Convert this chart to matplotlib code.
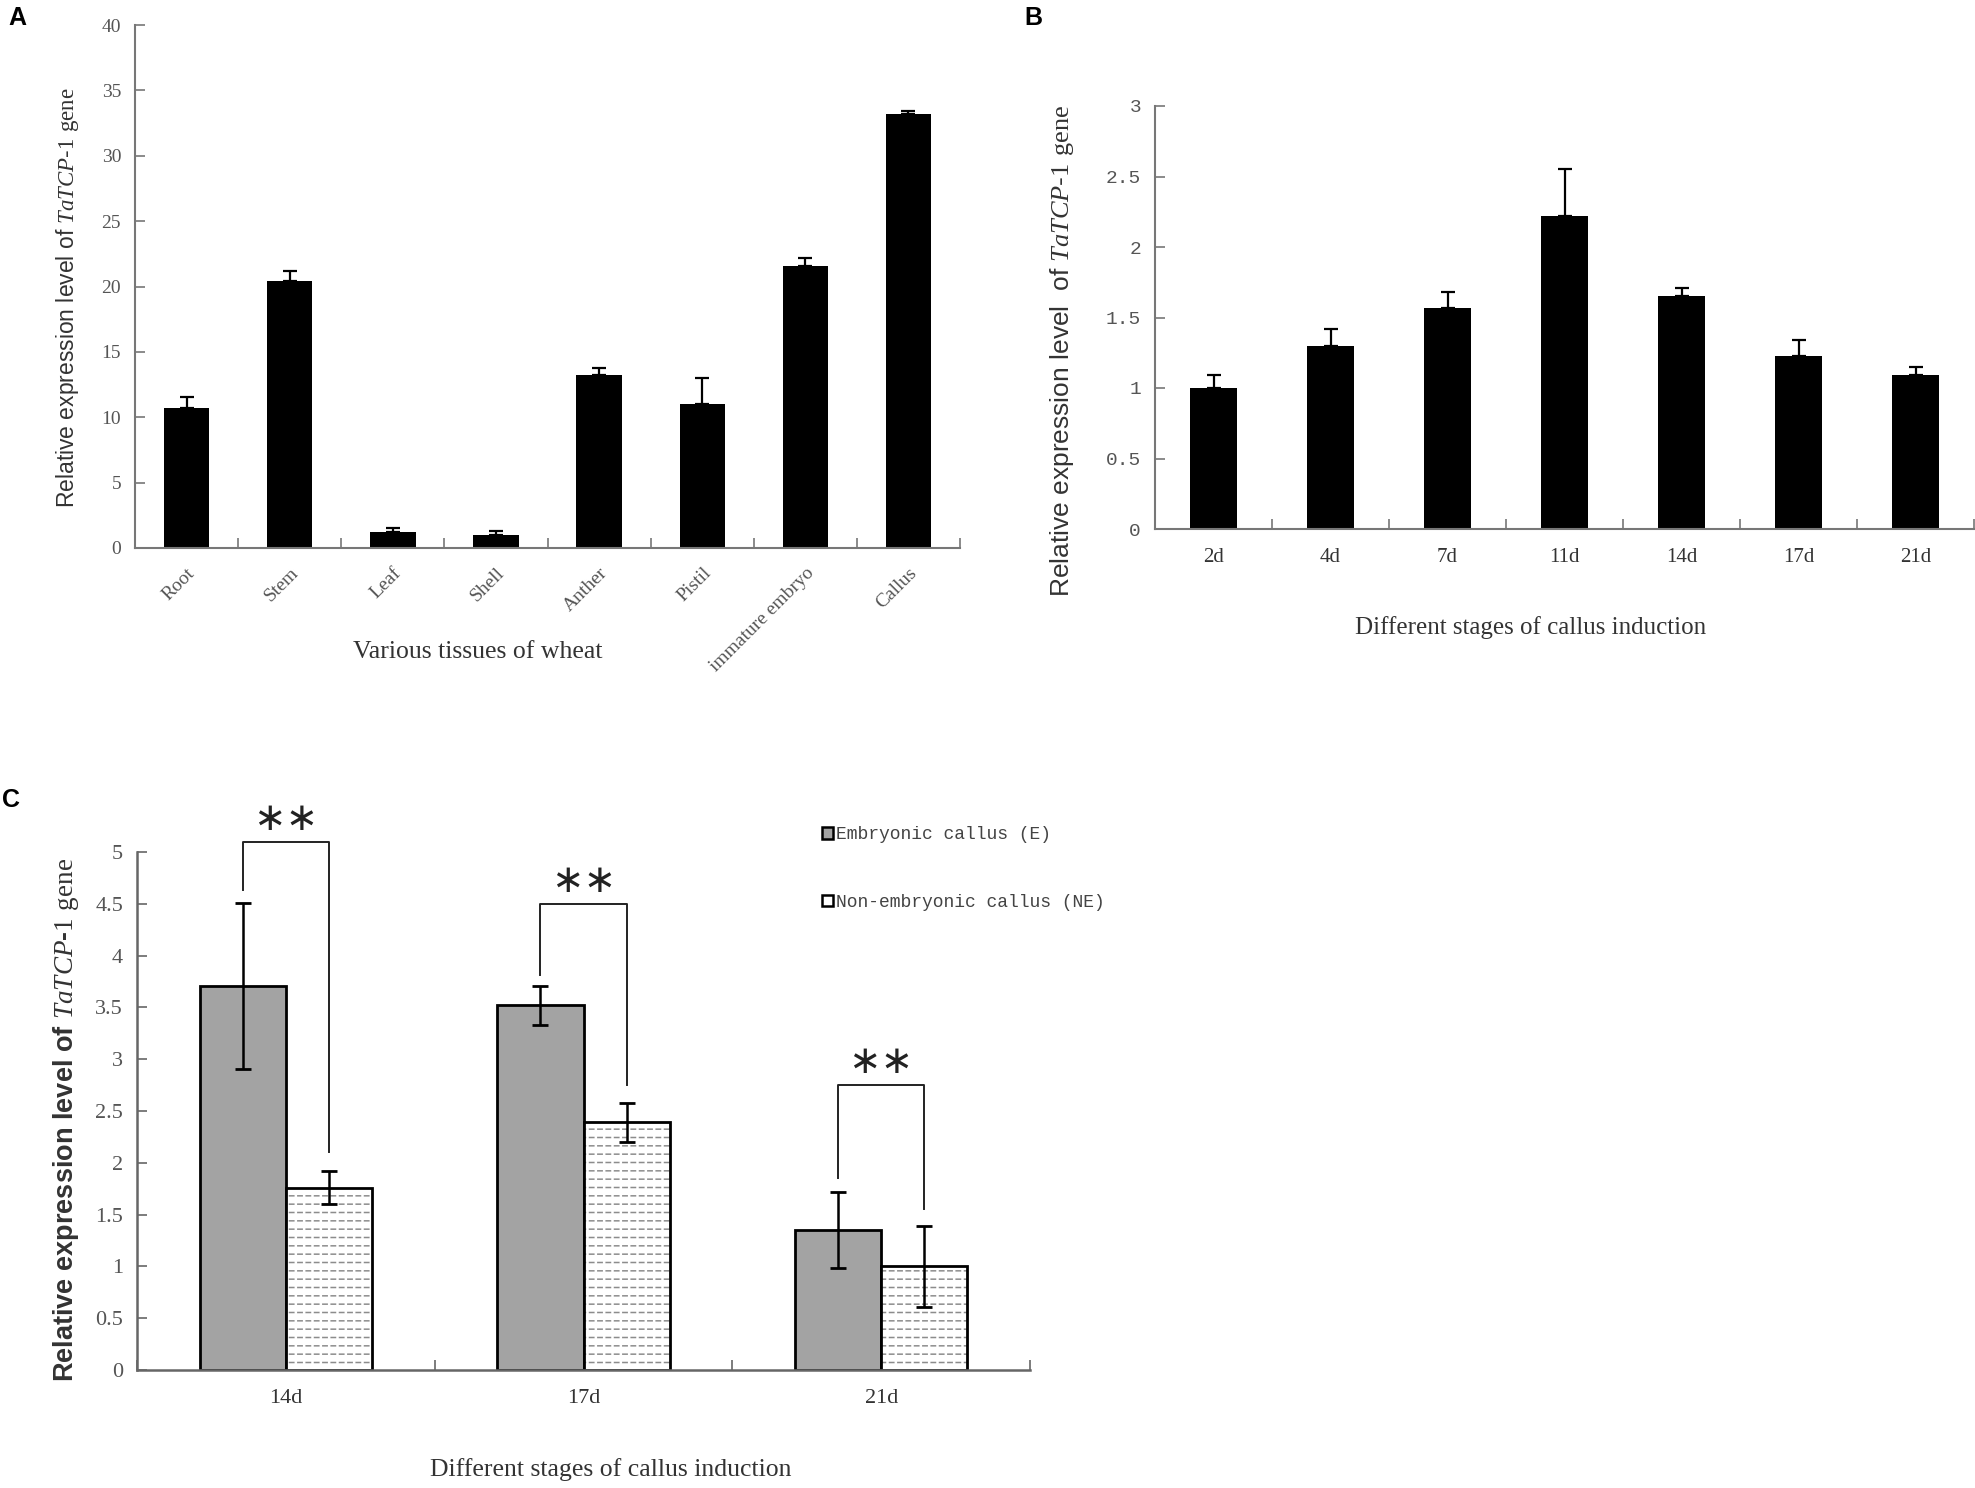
import numpy as np
import matplotlib
matplotlib.use("Agg")
import matplotlib.pyplot as plt
from matplotlib.patches import Patch

# ---------------- data ----------------
tissues = ['Root', 'Stem', 'Leaf', 'Shell', 'Anther', 'Pistil', 'immature embryo', 'Callus']
tissue_expr = [10.7, 20.4, 1.2, 1.0, 13.2, 11.0, 21.6, 33.2]
tissue_err = [0.85, 0.75, 0.3, 0.3, 0.6, 2.0, 0.6, 0.25]

stages_b = ['2d', '4d', '7d', '11d', '14d', '17d', '21d']
stage_expr = [1.0, 1.3, 1.57, 2.22, 1.65, 1.23, 1.09]
stage_err = [0.09, 0.12, 0.11, 0.33, 0.06, 0.11, 0.06]

stages_c = ['14d', '17d', '21d']
emb_expr = [3.71, 3.52, 1.35]
emb_err = [0.80, 0.19, 0.37]
nonemb_expr = [1.76, 2.39, 1.00]
nonemb_err = [0.16, 0.19, 0.39]
sig_top = [5.10, 4.50, 2.75]
sig_left_bottom = [4.63, 3.81, 1.85]
sig_right_bottom = [2.10, 2.75, 1.55]
sig_label = ['\u2217\u2217', '\u2217\u2217', '\u2217\u2217']

# ---------------- style ----------------
plt.rcParams['mathtext.fontset'] = 'custom'
plt.rcParams['mathtext.it'] = 'Liberation Serif:italic'
plt.rcParams['mathtext.rm'] = 'Liberation Serif'
plt.rcParams['hatch.linewidth'] = 1.0

SERIF = 'Liberation Serif'
SANS = 'Liberation Sans'
MONO = 'Liberation Mono'
AXCOL = '#777777'
TICKCOL = '#555555'

W, H = 1975, 1488
fig = plt.figure(figsize=(W / 100, H / 100), dpi=100)


def pos(left, right, top, bottom):
    return [left / W, 1 - bottom / H, (right - left) / W, (bottom - top) / H]


def style_axes(ax, n, spine_col=AXCOL, lw=1.5):
    for s in ['top', 'right']:
        ax.spines[s].set_visible(False)
    for s in ['left', 'bottom']:
        ax.spines[s].set_color(spine_col)
        ax.spines[s].set_linewidth(lw)
    ax.set_xlim(-0.5, n - 0.5)
    ax.set_xticks(np.arange(n + 1) - 0.5)
    ax.set_xticklabels([''] * (n + 1))
    ax.tick_params(axis='x', which='major', direction='in', length=7, width=1.2, color=spine_col)
    ax.tick_params(axis='x', which='minor', length=0)
    ax.tick_params(axis='y', direction='in', length=7, width=1.2, color=spine_col, pad=10)


ylabel_base = r'Relative expression level of $\mathit{TaTCP}$-$\mathit{1}$ $\mathrm{gene}$'
ylabel_b = r'Relative expression level  of $\mathit{TaTCP}$-$\mathit{1}$ $\mathrm{gene}$'

# ---------------- panel A ----------------
axA = fig.add_axes(pos(135, 960, 25, 548))
nA = len(tissues)
xA = np.arange(nA)
axA.bar(xA, tissue_expr, width=0.44, color='black', zorder=2)
axA.errorbar(xA, tissue_expr, yerr=[np.zeros(nA), tissue_err], fmt='none',
             ecolor='black', elinewidth=1.6, capsize=5, capthick=1.6, zorder=3)
style_axes(axA, nA)
axA.set_ylim(0, 40)
axA.set_yticks(np.arange(0, 41, 5))
axA.set_yticklabels([f'{v:g}' for v in np.arange(0, 41, 5)], family=SERIF, fontsize=14, color=TICKCOL)
axA.set_xticks(xA, minor=True)
axA.set_xticklabels(tissues, minor=True, rotation=45, ha='right', rotation_mode='anchor',
                    family=SERIF, fontsize=14, color=TICKCOL)
axA.tick_params(axis='x', which='minor', pad=12)
axA.set_ylabel(ylabel_base, family=SANS, fontsize=16.5, color='#333333')
axA.yaxis.set_label_coords(-0.082, 0.478)
axA.yaxis.label.set_va('center')
axA.set_xlabel('Various tissues of wheat', family=SERIF, fontsize=18.5, color='#333333')
axA.xaxis.set_label_coords(0.416, -0.198)
axA.xaxis.label.set_va('center')

# ---------------- panel B ----------------
axB = fig.add_axes(pos(1155, 1974, 106, 529))
nB = len(stages_b)
xB = np.arange(nB)
axB.bar(xB, stage_expr, width=0.41, color='black', zorder=2)
axB.errorbar(xB, stage_expr, yerr=[np.zeros(nB), stage_err], fmt='none',
             ecolor='black', elinewidth=1.6, capsize=5, capthick=1.6, zorder=3)
style_axes(axB, nB)
axB.set_ylim(0, 3)
yB = np.arange(0, 3.01, 0.5)
axB.set_yticks(yB)
axB.set_yticklabels([f'{v:g}' for v in yB], family=MONO, fontsize=14, color=TICKCOL)
axB.set_xticks(xB, minor=True)
axB.set_xticklabels(stages_b, minor=True, family=SERIF, fontsize=15, color='#333333')
axB.tick_params(axis='x', which='minor', pad=14)
axB.set_ylabel(ylabel_b, family=SANS, fontsize=19, color='#333333')
axB.yaxis.set_label_coords(-0.113, 0.42)
axB.yaxis.label.set_va('center')
axB.set_xlabel('Different stages of callus induction', family=SERIF, fontsize=18, color='#333333')
axB.xaxis.set_label_coords(0.459, -0.234)
axB.xaxis.label.set_va('center')

# ---------------- panel C ----------------
axC = fig.add_axes(pos(137, 1030, 852, 1370))
nC = len(stages_c)
xC = np.arange(nC)
bw = 0.29
xE = xC - bw / 2
xN = xC + bw / 2
axC.bar(xE, emb_expr, width=bw, color='#a3a3a3', edgecolor='black', linewidth=2, zorder=2)
plt.rcParams['hatch.linewidth'] = 1.1
axC.bar(xN, nonemb_expr, width=bw, color='white', edgecolor='#8c8c8c', hatch='--',
        linewidth=0, zorder=2)
plt.rcParams['hatch.linewidth'] = 1.8
axC.bar(xN, nonemb_expr, width=bw, color='none', edgecolor='white', hatch='||',
        linewidth=0, zorder=2.2)
plt.rcParams['hatch.linewidth'] = 1.0
axC.bar(xN, nonemb_expr, width=bw, color='none', edgecolor='black', linewidth=2, zorder=2.5)
axC.errorbar(xE, emb_expr, yerr=emb_err, fmt='none', ecolor='black', elinewidth=1.8,
             capsize=6, capthick=2, zorder=3)
axC.errorbar(xN, nonemb_expr, yerr=nonemb_err, fmt='none', ecolor='black', elinewidth=1.8,
             capsize=6, capthick=2, zorder=3)
style_axes(axC, nC, spine_col='#666666', lw=1.8)
axC.set_ylim(0, 5)
yC = np.arange(0, 5.01, 0.5)
axC.set_yticks(yC)
axC.set_yticklabels([f'{v:g}' for v in yC], family=SERIF, fontsize=16, color=TICKCOL)
axC.set_xticks(xC, minor=True)
axC.set_xticklabels(stages_c, minor=True, family=SERIF, fontsize=16, color='#333333')
axC.tick_params(axis='x', which='minor', pad=14)
axC.set_ylabel(ylabel_base, family=SANS, fontsize=19.5, fontweight='bold', color='#333333')
axC.yaxis.set_label_coords(-0.080, 0.483)
axC.yaxis.label.set_va('center')
axC.set_xlabel('Different stages of callus induction', family=SERIF, fontsize=18.5, color='#333333')
axC.xaxis.set_label_coords(0.53, -0.193)
axC.xaxis.label.set_va('center')

for i in range(nC):
    xl, xr = xE[i], xN[i]
    axC.plot([xl, xl, xr, xr], [sig_left_bottom[i], sig_top[i], sig_top[i], sig_right_bottom[i]],
             color='#222222', lw=1.4, clip_on=False, zorder=4)
    axC.text((xl + xr) / 2, sig_top[i] + 0.22, sig_label[i], ha='center', va='center',
             family='DejaVu Sans', fontsize=28, color='#222222', clip_on=False)

handles = [Patch(facecolor='#a3a3a3', edgecolor='black', linewidth=1.8),
           Patch(facecolor='white', edgecolor='black', linewidth=1.8)]
fig.legend(handles, ['Embryonic callus (E)', 'Non-embryonic callus (NE)'],
           loc='upper left', bbox_to_anchor=(806 / W, 1 - 810 / H), frameon=False,
           prop={'family': MONO, 'size': 13}, labelcolor='#444444',
           handlelength=0.6, handleheight=0.6, handletextpad=0.15, labelspacing=2.8)

# ---------------- panel letters ----------------
for lab, (px, py) in {'A': (8, 6), 'B': (1024, 6), 'C': (2, 788)}.items():
    fig.text(px / W, 1 - py / H, lab, family=SANS, fontweight='bold', fontsize=18,
             ha='left', va='top', color='black')

fig.savefig('out.png', dpi=100)
